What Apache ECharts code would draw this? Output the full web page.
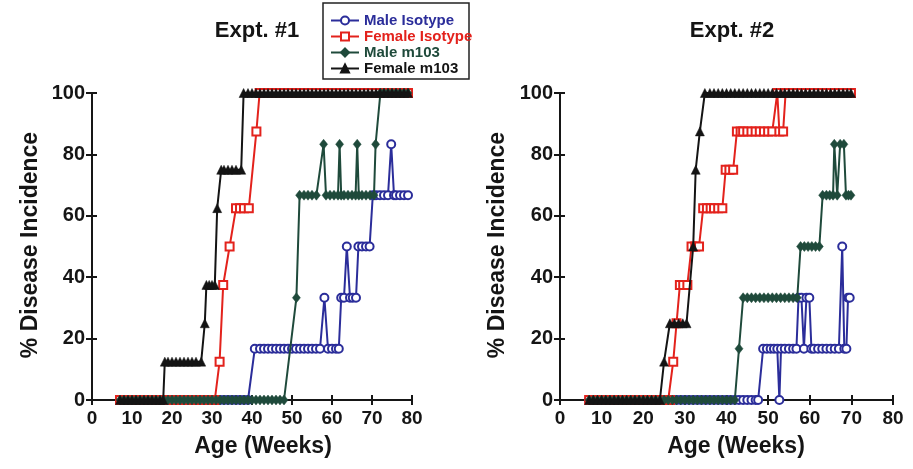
<!DOCTYPE html>
<html><head><meta charset="utf-8">
<script src="https://cdn.jsdelivr.net/npm/echarts@6/dist/echarts.min.js"></script>
<style>html,body{margin:0;padding:0;background:#fff}#c{width:913px;height:469px}</style>
</head><body><div id="c"></div>
<script>
// ---- labels ----
const seriesNames = ['Male Isotype', 'Female Isotype', 'Male m103', 'Female m103'];
const panelTitles = ['Expt. #1', 'Expt. #2'];
const xTitle = 'Age (Weeks)';
const yTitle = '% Disease Incidence';
const xTickValues = [0, 10, 20, 30, 40, 50, 60, 70, 80];
const yTickValues = [0, 20, 40, 60, 80, 100];

// ---- Expt. #1 ----
const e1_maleIso_x = [7,8,9,10,11,12,13,14,15,16,17,18,19,20,21,22,23,24,25,26,27,28,29,30,31,32,33,34,35,36,37,38,39,40.7,42,43,44,45,46,47,48,49,50,51,52,53,54,55,56,57,58.1,59,60,61,61.7,62.3,63,63.7,64.5,65.2,66,66.6,67.5,68.5,69.4,70.2,71,72,73,74,74.8,75.5,76,77,78,79];
const e1_maleIso_y = [0,0,0,0,0,0,0,0,0,0,0,0,0,0,0,0,0,0,0,0,0,0,0,0,0,0,0,0,0,0,0,0,0,16.7,16.7,16.7,16.7,16.7,16.7,16.7,16.7,16.7,16.7,16.7,16.7,16.7,16.7,16.7,16.7,16.7,33.3,16.7,16.7,16.7,16.7,33.3,33.3,50,33.3,33.3,33.3,50,50,50,50,66.7,66.7,66.7,66.7,66.7,83.3,66.7,66.7,66.7,66.7,66.7];

const e1_femaleIso_x = [7,8,9,10,11,12,13,14,15,16,17,18,19,20,21,22,23,24,25,26,27,28,29,30,30.7,31.9,32.8,34.4,36,37,38,39.2,41.1,41.9,43,44,45,46,47,48,49,50,51,52,53,54,55,56,57,58,59,60,61,62,63,64,65,66,67,68,69,70,71,72,73,74,75,76,77,78,79];
const e1_femaleIso_y = [0,0,0,0,0,0,0,0,0,0,0,0,0,0,0,0,0,0,0,0,0,0,0,0,0,12.5,37.5,50,62.5,62.5,62.5,62.5,87.5,100,100,100,100,100,100,100,100,100,100,100,100,100,100,100,100,100,100,100,100,100,100,100,100,100,100,100,100,100,100,100,100,100,100,100,100,100,100];

const e1_maleM103_x = [7,8,9,10,11,12,13,14,15,16,17,18,19,20,21,22,23,24,25,26,27,28,29,30,31,32,33,34,35,36,37,38,39,40,41,42,43,44,45,46,47,48,51.1,51.9,53,54,55,56.1,57.9,58.5,59.5,60.5,61.5,61.9,62.3,63,64,65,65.9,66.3,66.7,67.5,68.5,69.5,70.5,70.9,72.1,73,74,75,76,77,78,79];
const e1_maleM103_y = [0,0,0,0,0,0,0,0,0,0,0,0,0,0,0,0,0,0,0,0,0,0,0,0,0,0,0,0,0,0,0,0,0,0,0,0,0,0,0,0,0,0,33.3,66.7,66.7,66.7,66.7,66.7,83.3,66.7,66.7,66.7,66.7,83.3,66.7,66.7,66.7,66.7,66.7,83.3,66.7,66.7,66.7,66.7,66.7,83.3,100,100,100,100,100,100,100,100];

const e1_femaleM103_x = [7,8,9,10,11,12,13,14,15,16,17,17.8,18.2,19,20,21,22,23,24,25,26,27.3,28.2,28.6,29.3,30,30.7,31.3,32.3,33,34,35,36,37.3,37.9,39,40,41,42,43,44,45,46,47,48,49,50,51,52,53,54,55,56,57,58,59,60,61,62,63,64,65,66,67,68,69,70,71,72,73,74,75,76,77,78,79];
const e1_femaleM103_y = [0,0,0,0,0,0,0,0,0,0,0,0,12.5,12.5,12.5,12.5,12.5,12.5,12.5,12.5,12.5,12.5,25,37.5,37.5,37.5,37.5,62.5,75,75,75,75,75,75,100,100,100,100,100,100,100,100,100,100,100,100,100,100,100,100,100,100,100,100,100,100,100,100,100,100,100,100,100,100,100,100,100,100,100,100,100,100,100,100,100,100];

// ---- Expt. #2 ----
const e2_maleIso_x = [7,8,9,10,11,12,13,14,15,16,17,18,19,20,21,22,23,24,25,26,27,28,29,30,31,32,33,34,35,36,37,38,39,40,41,42,43,44,45,46,47,47.6,48.8,49.7,50.6,51.4,52.2,52.7,53.1,54,55,56,56.8,57.3,58,58.6,59.2,59.9,60.4,61,62,63,64,65,66,67,67.8,68.3,68.8,69.2,69.6];
const e2_maleIso_y = [0,0,0,0,0,0,0,0,0,0,0,0,0,0,0,0,0,0,0,0,0,0,0,0,0,0,0,0,0,0,0,0,0,0,0,0,0,0,0,0,0,0,16.7,16.7,16.7,16.7,16.7,0,16.7,16.7,16.7,16.7,16.7,33.3,33.3,16.7,33.3,33.3,16.7,16.7,16.7,16.7,16.7,16.7,16.7,16.7,50,16.7,16.7,33.3,33.3];

const e2_femaleIso_x = [7,8,9,10,11,12,13,14,15,16,17,18,19,20,21,22,23,24,25,26,26.4,27.2,28,28.8,29.6,30.6,31.6,32.5,33.4,34.4,35.3,36.2,37,38,39,39.8,40.7,41.6,42.5,43.4,44,45,46,47,48,49,50,51,52.2,52.7,53.6,54.2,55,56,57,58,59,60,61,62,63,64,65,66,67,68,69,69.9];
const e2_femaleIso_y = [0,0,0,0,0,0,0,0,0,0,0,0,0,0,0,0,0,0,0,0,0,12.5,25,37.5,37.5,37.5,50,50,50,62.5,62.5,62.5,62.5,62.5,62.5,75,75,75,87.5,87.5,87.5,87.5,87.5,87.5,87.5,87.5,87.5,87.5,100,87.5,87.5,100,100,100,100,100,100,100,100,100,100,100,100,100,100,100,100,100];

const e2_maleM103_x = [7,8,9,10,11,12,13,14,15,16,17,18,19,20,21,22,23,24,25,26,27,28,29,30,31,32,33,34,35,36,37,38,39,40,41,42,43,44,45,46,47,48,49,50,51,52,53,54,55,56,57,57.8,58.7,59.6,60.5,61.4,62.3,63.1,64,64.8,65.6,65.9,66.6,67.3,68.2,68.7,69.3,69.9];
const e2_maleM103_y = [0,0,0,0,0,0,0,0,0,0,0,0,0,0,0,0,0,0,0,0,0,0,0,0,0,0,0,0,0,0,0,0,0,0,0,0,16.7,33.3,33.3,33.3,33.3,33.3,33.3,33.3,33.3,33.3,33.3,33.3,33.3,33.3,33.3,50,50,50,50,50,50,66.7,66.7,66.7,66.7,83.3,66.7,83.3,83.3,66.7,66.7,66.7];

const e2_femaleM103_x = [7,8,9,10,11,12,13,14,15,16,17,18,19,20,21,22,23,24,25,26.4,27.5,28.5,29.5,30.4,32,32.6,33.6,34.8,36,37,38,39,40,41,42,43,44,45,46,47,48,49,50,51,52,53,54,55,56,57,58,59,60,61,62,63,64,65,66,67,68,69,69.9];
const e2_femaleM103_y = [0,0,0,0,0,0,0,0,0,0,0,0,0,0,0,0,0,0,12.5,25,25,25,25,25,50,75,87.5,100,100,100,100,100,100,100,100,100,100,100,100,100,100,100,100,100,100,100,100,100,100,100,100,100,100,100,100,100,100,100,100,100,100,100,100];

// ---- build ----
const FONT = '"Liberation Sans", Arial, Helvetica, sans-serif';
const colors = ['#2b2d9a', '#e3221c', '#1f4a3b', '#141414'];
const symbols = ['emptyCircle', 'emptyRect', 'diamond', 'triangle'];
const symSizes = [8, 8, [8, 10], 9];

function pairs(xs, ys) {
  if (xs.length !== ys.length) throw new Error('length mismatch ' + xs.length + ' vs ' + ys.length);
  return xs.map((x, i) => [x, ys[i]]);
}
const panels = [
  [[e1_maleIso_x, e1_maleIso_y], [e1_femaleIso_x, e1_femaleIso_y], [e1_maleM103_x, e1_maleM103_y], [e1_femaleM103_x, e1_femaleM103_y]],
  [[e2_maleIso_x, e2_maleIso_y], [e2_femaleIso_x, e2_femaleIso_y], [e2_maleM103_x, e2_maleM103_y], [e2_femaleM103_x, e2_femaleM103_y]]
];

const grids = [
  { left: 92, top: 93, width: 320, height: 307 },
  { left: 560, top: 93, width: 333, height: 307 }
];
const xMin = xTickValues[0], xMax = xTickValues[xTickValues.length - 1], xInt = xTickValues[1] - xTickValues[0];
const yMin = yTickValues[0], yMax = yTickValues[yTickValues.length - 1], yInt = yTickValues[1] - yTickValues[0];
const lineCol = '#161616';

const xAxes = [], yAxes = [], series = [];
grids.forEach((g, gi) => {
  xAxes.push({
    type: 'value', gridIndex: gi, position: 'bottom', min: xMin, max: xMax, interval: xInt,
    axisLine: { show: true, onZero: false, lineStyle: { color: lineCol, width: 2 } },
    axisTick: { show: true, length: 5, lineStyle: { color: lineCol, width: 2 } },
    axisLabel: { fontSize: 19, fontWeight: 'bold', color: '#151515', margin: 9, fontFamily: FONT },
    splitLine: { show: false }
  });
  xAxes.push({
    type: 'value', gridIndex: gi, position: 'bottom', min: xMin, max: xMax, interval: xInt,
    axisLine: { show: false, onZero: false },
    axisTick: { show: true, inside: true, length: 5, lineStyle: { color: lineCol, width: 2 } },
    axisLabel: { show: false }, splitLine: { show: false }
  });
  yAxes.push({
    type: 'value', gridIndex: gi, position: 'left', min: yMin, max: yMax, interval: yInt,
    axisLine: { show: true, onZero: false, lineStyle: { color: lineCol, width: 2 } },
    axisTick: { show: true, length: 6, lineStyle: { color: lineCol, width: 2 } },
    axisLabel: { fontSize: 20, fontWeight: 'bold', color: '#151515', margin: 7, fontFamily: FONT },
    splitLine: { show: false }
  });
  yAxes.push({
    type: 'value', gridIndex: gi, position: 'left', min: yMin, max: yMax, interval: yInt,
    axisLine: { show: false, onZero: false },
    axisTick: { show: true, inside: true, length: 5, lineStyle: { color: lineCol, width: 2 } },
    axisLabel: { show: false }, splitLine: { show: false }
  });
  panels[gi].forEach((d, si) => {
    series.push({
      type: 'line', name: seriesNames[si],
      xAxisIndex: gi * 2, yAxisIndex: gi * 2,
      data: pairs(d[0], d[1]),
      symbol: symbols[si], symbolSize: symSizes[si],
      showAllSymbol: true,
      lineStyle: { color: colors[si], width: 2 },
      itemStyle: { color: colors[si], borderColor: colors[si], borderWidth: si < 2 ? 1.7 : 0.5 },
      z: 2 + si, animation: false, emphasis: { disabled: true }
    });
  });
});

const option = {
  backgroundColor: '#ffffff',
  animation: false,
  grid: grids,
  xAxis: xAxes,
  yAxis: yAxes,
  series: series,
  legend: {
    data: seriesNames.map((n, i) => ({ name: n, textStyle: { color: colors[i] } })),
    orient: 'vertical', left: 330, top: 13,
    itemWidth: 28, itemHeight: 10, itemGap: 1, padding: 0,
    selectedMode: false, z: 10,
    textStyle: { fontSize: 15, fontWeight: 'bold', fontFamily: FONT }
  },
  graphic: [
    { type: 'rect', z: 1, shape: { x: 323, y: 3, width: 146, height: 76 }, style: { fill: '#fff', stroke: '#222', lineWidth: 1.5 } },
    { type: 'text', x: 257, y: 31, style: { text: panelTitles[0], font: 'bold 22px ' + FONT, fill: '#151515', align: 'center', verticalAlign: 'middle' } },
    { type: 'text', x: 732, y: 31, style: { text: panelTitles[1], font: 'bold 22px ' + FONT, fill: '#151515', align: 'center', verticalAlign: 'middle' } },
    { type: 'text', x: 31, y: 245, rotation: Math.PI / 2, style: { text: yTitle, font: 'bold 23px ' + FONT, fill: '#151515', align: 'center', verticalAlign: 'middle' } },
    { type: 'text', x: 498, y: 245, rotation: Math.PI / 2, style: { text: yTitle, font: 'bold 23px ' + FONT, fill: '#151515', align: 'center', verticalAlign: 'middle' } },
    { type: 'text', x: 263, y: 447, style: { text: xTitle, font: 'bold 23px ' + FONT, fill: '#151515', align: 'center', verticalAlign: 'middle' } },
    { type: 'text', x: 736, y: 447, style: { text: xTitle, font: 'bold 23px ' + FONT, fill: '#151515', align: 'center', verticalAlign: 'middle' } }
  ]
};
const chart = echarts.init(document.getElementById('c'), null, { renderer: 'canvas' });
chart.setOption(option);
</script>
</body></html>
